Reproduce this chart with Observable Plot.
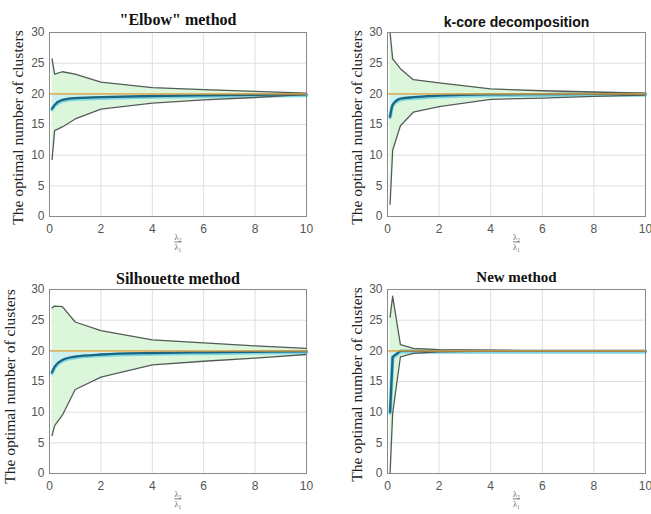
<!DOCTYPE html>
<html>
<head>
<meta charset="utf-8">
<script src="https://cdn.jsdelivr.net/npm/d3@7"></script>
<script src="https://cdn.jsdelivr.net/npm/@observablehq/plot@0.6"></script>
<style>
  html, body { margin: 0; padding: 0; background: #fff; }
  #wrap { position: relative; width: 651px; height: 514px; background: #fff; overflow: hidden; }
  .panel { position: absolute; }
</style>
</head>
<body>
<div id="wrap"></div>
<script>
// ---- data ----
const xs = [0.1, 0.2, 0.5, 1, 2, 4, 6, 8, 10];
const trueK = [20];
const xTicks = [0, 2, 4, 6, 8, 10];
const yTicks = [0, 5, 10, 15, 20, 25, 30];

const elbowUpper = [25.7, 23.2, 23.6, 23.2, 21.9, 21.0, 20.7, 20.4, 20.1];
const elbowLower = [9.3, 14.0, 14.6, 15.9, 17.5, 18.5, 19.0, 19.4, 19.9];
const elbowMean  = [17.6, 18.2, 19.0, 19.3, 19.45, 19.65, 19.75, 19.85, 19.9];

const kcoreUpper = [30.0, 25.7, 24.1, 22.3, 21.8, 20.8, 20.5, 20.3, 20.1];
const kcoreLower = [2.0, 10.8, 14.8, 17.0, 17.9, 19.1, 19.3, 19.6, 19.8];
const kcoreMean  = [16.3, 18.2, 19.2, 19.45, 19.7, 19.9, 19.95, 20.0, 20.0];

const silUpper = [27.0, 27.3, 27.2, 24.7, 23.3, 21.8, 21.3, 20.8, 20.4];
const silLower = [6.2, 7.8, 9.5, 13.7, 15.7, 17.7, 18.3, 18.8, 19.4];
const silMean  = [16.5, 17.4, 18.5, 19.05, 19.4, 19.65, 19.75, 19.85, 19.9];

const newUpper = [25.5, 28.9, 21.0, 20.4, 20.2, 20.1, 20.0, 20.0, 20.0];
const newLower = [0.0, 9.8, 19.0, 19.6, 19.85, 19.95, 20.0, 20.0, 20.0];
const newMean  = [10.0, 19.0, 20.0, 20.0, 20.0, 20.0, 20.0, 20.0, 20.0];

const titles = ["\"Elbow\" method", "k-core decomposition", "Silhouette method", "New method"];
const yLabel = "The optimal number of clusters";
const xNum = "λ₂";
const xDen = "λ₁";

// ---- build ----
function rows(upper, lower, mean) {
  return xs.map((x, i) => ({x, upper: upper[i], lower: lower[i], mean: mean[i]}));
}

const panels = [
  {data: rows(elbowUpper, elbowLower, elbowMean), title: titles[0], left: 0, top: 0, mL: 49, mR: 19,
   tFont: "Liberation Serif, Times New Roman, serif", tSize: 16, tDy: -8, yDx: -31, yDy: 3, meanCurve: "monotone-x"},
  {data: rows(kcoreUpper, kcoreLower, kcoreMean), title: titles[1], left: 326, top: 0, mL: 61, mR: 6,
   tFont: "Liberation Sans, Arial, sans-serif", tSize: 14, tDy: -6, yDx: -30, yDy: 3, meanCurve: "monotone-x"},
  {data: rows(silUpper, silLower, silMean), title: titles[2], left: 0, top: 257, mL: 49, mR: 19,
   tFont: "Liberation Serif, Times New Roman, serif", tSize: 16, tDy: -6, yDx: -39, yDy: 5, meanCurve: "monotone-x"},
  {data: rows(newUpper, newLower, newMean), title: titles[3], left: 326, top: 257, mL: 61, mR: 6,
   tFont: "Liberation Serif, Times New Roman, serif", tSize: 15, tDy: -8, yDx: -30, yDy: 3, meanCurve: "linear"}
];

const wrap = document.getElementById("wrap");
const boundColor = "#525c56";

for (const p of panels) {
  const chart = Plot.plot({
    width: 325,
    height: 257,
    marginLeft: p.mL,
    marginRight: p.mR,
    marginTop: 32,
    marginBottom: 41,
    style: {background: "transparent", overflow: "visible"},
    x: {domain: [0, 10]},
    y: {domain: [0, 30]},
    marks: [
      Plot.gridX(xTicks, {stroke: "#dedede", strokeOpacity: 1}),
      Plot.gridY(yTicks, {stroke: "#dedede", strokeOpacity: 1}),
      Plot.areaY(p.data, {x: "x", y1: "lower", y2: "upper", fill: "#dcf6dc"}),
      Plot.areaY(p.data, {x: "x", y1: "mean", y2: () => trueK[0], fill: "#cdf1ee", curve: p.meanCurve}),
      Plot.lineY(p.data, {x: "x", y: "mean", stroke: "#7fd6e4", strokeWidth: 3.6, curve: p.meanCurve, dy: 1}),
      Plot.lineY(p.data, {x: "x", y: "mean", stroke: "#1b6680", strokeWidth: 2.3, curve: p.meanCurve}),
      Plot.lineY(p.data, {x: "x", y: "upper", stroke: boundColor, strokeWidth: 1.3}),
      Plot.lineY(p.data, {x: "x", y: "lower", stroke: boundColor, strokeWidth: 1.3}),
      Plot.ruleY(trueK, {stroke: "#e2a23e", strokeWidth: 1.8, strokeOpacity: 0.8}),
      Plot.frame({stroke: "#8a8a8a", strokeWidth: 1}),
      Plot.axisX({ticks: xTicks, tickSize: 0, tickPadding: 8, label: null, fontSize: 12,
        fontFamily: "Liberation Sans, Arial, sans-serif", fill: "#555"}),
      Plot.axisY({ticks: yTicks, tickSize: 0, tickPadding: 5, label: null, fontSize: 12,
        fontFamily: "Liberation Sans, Arial, sans-serif", fill: "#555"}),
      Plot.text([p.title], {frameAnchor: "top", dy: p.tDy, lineAnchor: "bottom", fontWeight: "bold",
        fontFamily: p.tFont, fontSize: p.tSize, fill: "#111"}),
      Plot.text([yLabel], {frameAnchor: "left", textAnchor: "middle", rotate: -90, dx: p.yDx, dy: p.yDy, fontSize: 15.5,
        fontFamily: "Liberation Serif, Times New Roman, serif", fill: "#222"}),
      Plot.text([xNum], {frameAnchor: "bottom", dy: 23, fontSize: 8.5, fontFamily: "Liberation Serif, serif", fill: "#666"}),
      Plot.text([xDen], {frameAnchor: "bottom", dy: 33, fontSize: 8.5, fontFamily: "Liberation Serif, serif", fill: "#666"})
    ]
  });
  // fraction bar: overline on the denominator
  chart.querySelectorAll("text").forEach(t => {
    if (t.textContent === xDen) t.setAttribute("text-decoration", "overline");
  });
  const div = document.createElement("div");
  div.className = "panel";
  div.style.left = p.left + "px";
  div.style.top = p.top + "px";
  div.appendChild(chart);
  wrap.appendChild(div);
}
</script>
</body>
</html>
